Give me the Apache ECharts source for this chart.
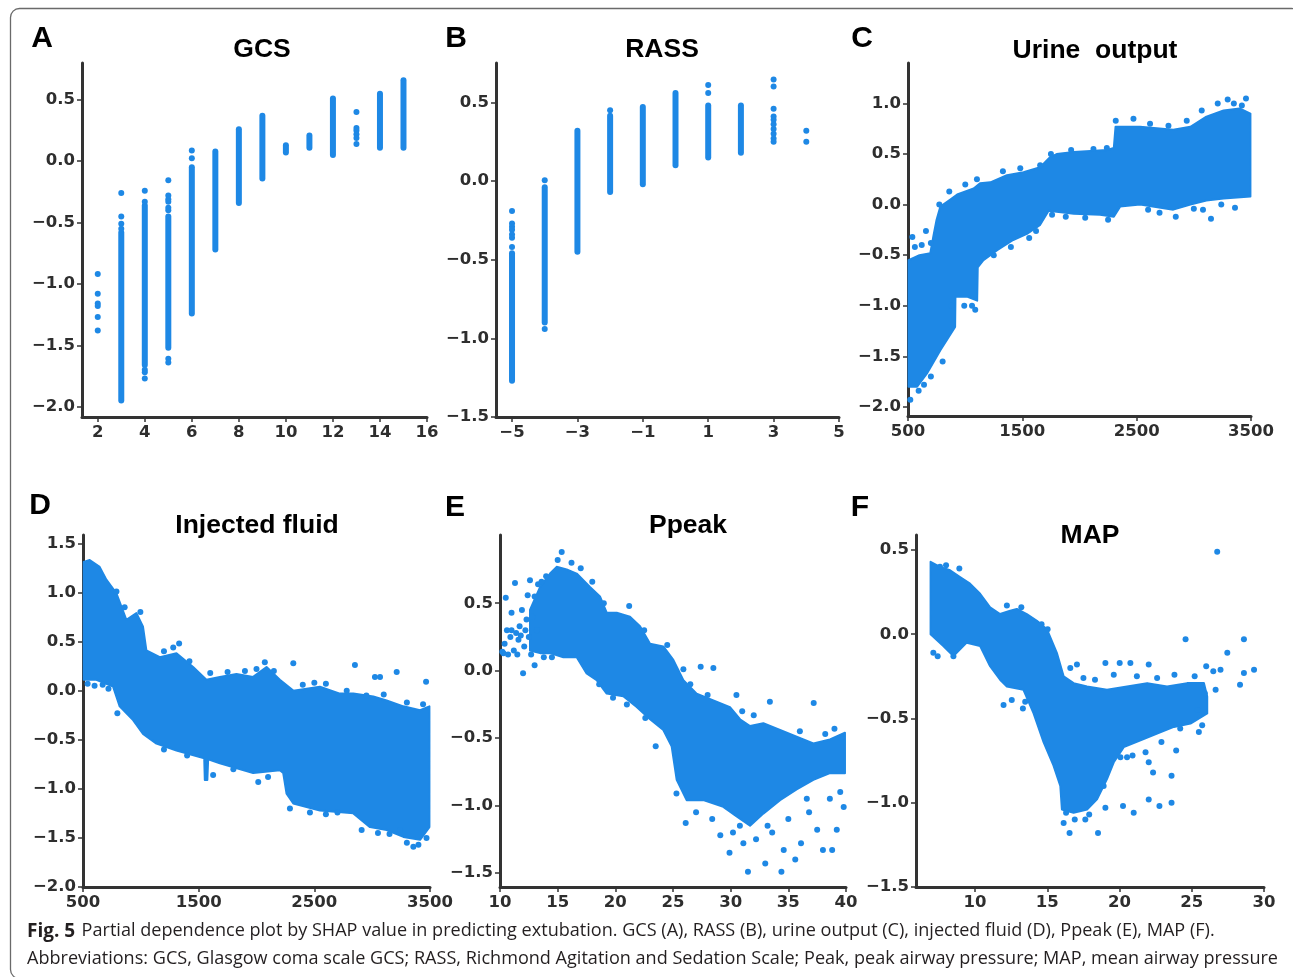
<!DOCTYPE html>
<html><head><meta charset="utf-8">
<script src="https://cdn.jsdelivr.net/npm/echarts@6/dist/echarts.min.js"></script>
<style>html,body{margin:0;padding:0;background:#fff}#c{width:1293px;height:977px}</style>
</head><body><div id="c"></div>
<script>
// ---------- DATA ----------
// A: GCS  — vertical stripes [x, top, bottom] and single dots [x, y]
const gcsStripes = [[3,-0.58,-1.95],[4,-0.36,-1.66],[5,-0.45,-1.52],[6,-0.05,-1.24],[7,0.08,-0.72],[8,0.26,-0.34],[9,0.37,-0.14],[10,0.13,0.07],[11,0.21,0.11],[12,0.51,0.05],[14,0.55,0.11],[15,0.66,0.11]];
const gcsDots = [[2,-0.92],[2,-1.08],[2,-1.16],[2,-1.18],[2,-1.27],[2,-1.38],[3,-0.26],[3,-0.45],[3,-0.51],[3,-0.55],[4,-0.24],[4,-0.33],[4,-1.70],[4,-1.72],[4,-1.77],[5,-0.155],[5,-0.28],[5,-0.31],[5,-0.33],[5,-0.38],[5,-0.40],[5,-1.61],[5,-1.64],[6,0.087],[6,0.025],[13,0.40],[13,0.27],[13,0.25],[13,0.22],[13,0.19],[13,0.14]];
const gcsXTicks = [2,4,6,8,10,12,14,16];
const gcsYTicks = [-2.0,-1.5,-1.0,-0.5,0.0,0.5];

// B: RASS
const rassStripes = [[-5,-0.46,-1.27],[-4,-0.04,-0.90],[-3,0.32,-0.45],[-2,0.415,-0.07],[-1,0.47,-0.02],[0,0.56,0.10],[1,0.48,0.15],[2,0.48,0.18]];
const rassDots = [[-5,-0.19],[-5,-0.27],[-5,-0.29],[-5,-0.31],[-5,-0.34],[-5,-0.36],[-5,-0.42],[-4,0.004],[-4,-0.94],[-2,0.45],[1,0.61],[1,0.56],[3,0.645],[3,0.60],[3,0.46],[3,0.41],[3,0.39],[3,0.36],[3,0.33],[3,0.30],[3,0.27],[3,0.25],[4,0.32],[4,0.25]];
const rassXTicks = [-5,-3,-1,1,3,5];
const rassYTicks = [-1.5,-1.0,-0.5,0.0,0.5];

// C: Urine output — dense cloud outline (upper edge, lower edge) + stray dots
const urineUpper = [[505,-0.55],[600,-0.50],[695,-0.48],[724,-0.30],[750,-0.15],[783,-0.02],[870,0.05],[930,0.10],[1074,0.16],[1130,0.21],[1220,0.22],[1365,0.29],[1510,0.32],[1656,0.37],[1744,0.47],[1800,0.50],[1950,0.52],[2240,0.54],[2300,0.56],[2315,0.77],[2530,0.77],[2820,0.74],[2970,0.77],[3110,0.87],[3260,0.93],[3400,0.95],[3495,0.90]];
const urineLower = [[3495,0.08],[3260,0.06],[3110,0.04],[2970,0.0],[2820,-0.05],[2530,0.0],[2355,-0.02],[2300,-0.12],[2180,-0.10],[1950,-0.09],[1800,-0.07],[1730,-0.06],[1656,-0.20],[1540,-0.29],[1420,-0.35],[1280,-0.45],[1160,-0.55],[1110,-0.62],[1105,-0.95],[1016,-0.91],[915,-0.91],[912,-1.21],[783,-1.44],[666,-1.67],[580,-1.80],[505,-1.80]];
const urineDots = [[520,-1.93],[593,-1.84],[803,-1.55],[992,-1.0],[1088,-1.04],[3150,-0.14],[2842,-0.12],[3360,-0.03],[3296,1.04],[3456,1.05],[2472,0.85],[2317,0.83],[538,-0.32],[657,-0.26],[774,0.0],[861,0.13],[1001,0.2],[1330,0.33],[1927,0.54],[3209,1.0],
  [560,-0.42],[620,-0.40],[700,-0.38],[1103,0.25],[1482,0.36],[1656,0.39],[1750,0.5],[2122,0.55],[2239,0.56],[2617,0.80],[2778,0.78],[2938,0.83],[3069,0.93],[3350,1.0],[3420,0.98],
  [1250,-0.5],[1400,-0.42],[1560,-0.33],[1620,-0.26],[1760,-0.1],[1880,-0.12],[2050,-0.13],[2250,-0.15],[2600,-0.05],[2700,-0.08],[3000,-0.04],[3080,-0.05],[3240,0.0],[880,-1.0],[1060,-1.0],[700,-1.7],[640,-1.78]];
const urineXTicks = [500,1500,2500,3500];
const urineYTicks = [-2.0,-1.5,-1.0,-0.5,0.0,0.5,1.0];

// D: Injected fluid
const fluidUpper = [[506,1.31],[558,1.33],[644,1.26],[702,1.13],[789,0.99],[875,0.72],[962,0.79],[1019,0.65],[1048,0.41],[1164,0.34],[1308,0.38],[1452,0.24],[1567,0.11],[1683,0.14],[1827,0.17],[1971,0.14],[2087,0.24],[2202,0.11],[2318,0.0],[2548,0.04],[2721,-0.03],[2837,-0.03],[3010,-0.06],[3125,-0.10],[3270,-0.16],[3414,-0.20],[3495,-0.16]];
const fluidLower = [[3495,-1.39],[3414,-1.52],[3270,-1.49],[3125,-1.42],[2981,-1.39],[2837,-1.25],[2548,-1.22],[2318,-1.15],[2260,-1.05],[2231,-0.84],[2202,-0.81],[1971,-0.84],[1683,-0.74],[1582,-0.70],[1575,-0.91],[1553,-0.91],[1548,-0.69],[1308,-0.61],[1135,-0.54],[1019,-0.44],[933,-0.30],[817,-0.16],[760,0.04],[615,0.11],[506,0.11]];
const fluidDots = [[797,-0.23],[1625,-0.86],[2015,-0.93],[2289,-1.20],[2462,-1.24],[3356,-1.59],[3466,0.09],[3212,0.19],[2851,0.26],[2072,0.29],[2318,0.28],[1331,0.48],[996,0.80],[789,1.01],[3024,0.14],[3068,0.14],[2909,-1.42],[3241,-1.42],[540,0.07],[600,0.05],[3300,-1.55],[3150,-1.46],[2700,-1.24],[2600,0.07],[2950,-0.05],
  [1200,0.40],[1280,0.44],[1420,0.30],[1600,0.18],[1750,0.19],[1900,0.20],[2000,0.22],[2150,0.20],[2400,0.06],[2500,0.08],[2780,0.0],[3100,-0.04],[3300,-0.12],[3440,-0.14],[1200,-0.60],[1400,-0.66],[1800,-0.80],[2100,-0.88],[2600,-1.26],[3050,-1.45],[3400,-1.57],[3470,-1.50],[860,0.85],[720,0.02],[670,0.06]];
const fluidXTicks = [500,1500,2500,3500];
const fluidYTicks = [-2.0,-1.5,-1.0,-0.5,0.0,0.5,1.0,1.5];

// E: Ppeak
const ppeakUpper = [[12.6,0.45],[13.47,0.62],[14.34,0.72],[14.91,0.77],[15.78,0.75],[16.65,0.72],[17.8,0.62],[18.67,0.55],[19.25,0.43],[20.12,0.43],[21.27,0.40],[22.14,0.33],[23.01,0.20],[24.16,0.18],[25.03,0.08],[25.9,-0.07],[27.05,-0.17],[28.5,-0.22],[29.94,-0.27],[30.81,-0.36],[31.68,-0.41],[32.83,-0.39],[34.28,-0.44],[35.72,-0.49],[37.17,-0.54],[38.61,-0.51],[39.91,-0.46]];
const ppeakLower = [[39.91,-0.76],[38.61,-0.76],[37.17,-0.81],[35.72,-0.88],[34.28,-0.96],[32.83,-1.06],[31.68,-1.15],[30.52,-1.08],[29.36,-1.01],[27.63,-0.96],[26.18,-0.96],[25.32,-0.81],[24.88,-0.56],[24.16,-0.44],[23.01,-0.36],[21.85,-0.27],[20.69,-0.19],[19.25,-0.17],[18.38,-0.07],[17.51,-0.02],[16.65,0.10],[15.49,0.10],[14.34,0.13],[13.47,0.13],[12.6,0.15]];
const ppeakDots = [[10.3,0.13],[10.5,0.54],[11.3,0.65],[11.0,0.43],[10.9,0.25],[11.6,0.23],[12.0,-0.02],[11.7,0.33],[12.3,0.38],[12.1,0.18],[13.0,0.04],[12.6,0.67],[15.35,0.88],[15.0,0.82],[21.2,0.48],[27.4,0.03],[28.5,0.02],[25.9,0.01],[23.5,-0.56],[25.3,-0.91],[26.1,-1.13],[31.5,-1.49],[33.0,-1.43],[34.4,-1.49],[35.6,-1.40],[37.2,-0.24],[33.4,-0.23],[30.5,-0.18],[39.0,-0.43],[38.0,-1.33],[38.8,-1.33],[39.2,-1.18],[39.8,-1.01],[29.1,-1.22],[29.9,-1.35],[31.1,-1.28],[34.6,-1.33],[36.1,-1.28],[37.5,-1.18],[10.6,0.3],[11.2,0.15],[11.9,0.45],[12.4,0.56],[32.2,-1.25],[33.6,-1.2],[36.8,-1.05],[30.2,-1.2],
  [10.2,0.14],[10.4,0.2],[10.7,0.12],[11.0,0.3],[11.4,0.28],[11.5,0.12],[11.8,0.26],[12.2,0.3],[12.5,0.25],[12.7,0.12],[12.8,0.4],[13.0,0.55],[13.2,0.3],[13.3,0.64],[13.6,0.66],[14.0,0.7],[13.8,0.1],[14.5,0.1],
  [16.2,0.8],[17.0,0.76],[18.0,0.66],[19.0,0.5],[22.5,0.3],[24.5,0.19],[26.5,-0.1],[28.0,-0.18],[31.0,-0.3],[32.0,-0.33],[36.0,-0.45],[38.2,-0.47],[39.6,-0.5],[27.0,-1.05],[28.4,-1.1],[30.8,-1.15],[33.2,-1.15],[35.0,-1.1],[36.6,-0.95],[38.6,-0.95],[39.5,-0.9],[21.0,-0.25],[22.6,-0.35],[18.6,-0.1],[19.8,-0.2]];
const ppeakXTicks = [10,15,20,25,30,35,40];
const ppeakYTicks = [-1.5,-1.0,-0.5,0.0,0.5];

// F: MAP
const mapUpper = [[6.92,0.43],[7.57,0.40],[8.27,0.38],[8.96,0.34],[9.65,0.30],[10.35,0.24],[11.04,0.16],[11.73,0.12],[12.43,0.14],[12.89,0.15],[13.58,0.12],[14.28,0.08],[14.97,0.03],[15.66,-0.11],[16.13,-0.25],[16.82,-0.29],[17.75,-0.31],[19.13,-0.33],[20.52,-0.31],[21.91,-0.29],[23.29,-0.31],[24.68,-0.29],[25.84,-0.29],[26.07,-0.37]];
const mapLower = [[26.07,-0.47],[24.91,-0.53],[23.76,-0.55],[22.6,-0.59],[21.45,-0.63],[20.29,-0.67],[19.6,-0.76],[19.13,-0.86],[18.44,-0.98],[17.75,-1.04],[16.82,-1.06],[16.01,-1.04],[15.9,-0.90],[15.43,-0.78],[14.74,-0.64],[14.05,-0.47],[13.35,-0.33],[12.2,-0.31],[11.73,-0.27],[11.04,-0.19],[10.35,-0.07],[9.42,-0.05],[8.5,-0.13],[7.8,-0.07],[6.92,0.0]];
const mapDots = [[26.76,0.49],[24.57,-0.03],[28.61,-0.03],[27.46,-0.11],[29.31,-0.21],[28.34,-0.30],[28.61,-0.23],[26.99,-0.21],[26.49,-0.22],[26.0,-0.19],[26.65,-0.33],[25.72,-0.54],[25.49,-0.58],[23.92,-0.69],[23.6,-0.84],[23.6,-1.0],[22.76,-1.02],[22.02,-0.98],[22.02,-0.76],[22.32,-0.82],[20.98,-1.06],[20.24,-1.02],[19.02,-1.03],[18.51,-1.18],[16.54,-1.18],[17.63,-1.10],[16.13,-1.12],[22.02,-0.18],[20.75,-0.17],[20.01,-0.17],[19.02,-0.17],[7.11,-0.11],[7.41,-0.13],[8.5,-0.13],[11.97,-0.42],[12.54,-0.39],[13.31,-0.44],[13.47,-0.40],[20.52,-0.73],[20.06,-0.73],[7.57,0.40],[7.99,0.41],[8.91,0.39],[15.02,0.03],[16.59,-0.20],[17.05,-0.18],
  [17.5,-0.26],[18.3,-0.27],[19.6,-0.24],[21.2,-0.25],[22.6,-0.26],[23.8,-0.24],[25.2,-0.25],[25.9,-0.35],[25.4,-0.45],[24.2,-0.56],[22.9,-0.64],[21.8,-0.70],[20.9,-0.72],[18.9,-0.9],[17.9,-1.07],[16.9,-1.1],[16.3,-1.06],[12.2,0.17],[13.2,0.16],[14.6,0.06]];
const mapXTicks = [10,15,20,25,30];
const mapYTicks = [-1.5,-1.0,-0.5,0.0,0.5];

const titles = ['GCS','RASS','Urine  output','Injected fluid','Ppeak','MAP'];
const letters = ['A','B','C','D','E','F'];
const captionBold = 'Fig. 5';
const captionLine1 = 'Partial dependence plot by SHAP value in predicting extubation. GCS (A), RASS (B), urine output (C), injected fluid (D), Ppeak (E), MAP (F).';
const captionLine2 = 'Abbreviations: GCS, Glasgow coma scale GCS; RASS, Richmond Agitation and Sedation Scale; Peak, peak airway pressure; MAP, mean airway pressure';

// ---------- LAYOUT ----------
const BLUE = '#1E88E5';
const AX = '#333333';
const boxes = [
  {left:82, top:63, width:345, height:354, xmin:1.33, xmax:16, ymin:-2.084, ymax:0.80},
  {left:496, top:63, width:343, height:354, xmin:-5.49, xmax:5, ymin:-1.5, ymax:0.75},
  {left:908, top:63, width:343, height:353, xmin:500, xmax:3500, ymin:-2.09, ymax:1.40},
  {left:83, top:535, width:347, height:352, xmin:500, xmax:3500, ymin:-2.0, ymax:1.585},
  {left:500, top:535, width:346, height:352, xmin:10, xmax:40, ymin:-1.604, ymax:1.006},
  {left:916, top:535, width:348, height:352, xmin:5.91, xmax:30, ymin:-1.5, ymax:0.589}
];
const xTickSets = [gcsXTicks, rassXTicks, urineXTicks, fluidXTicks, ppeakXTicks, mapXTicks];
const yTickSets = [gcsYTicks, rassYTicks, urineYTicks, fluidYTicks, ppeakYTicks, mapYTicks];
const titlePos = [[262,50],[662,50],[1095,51],[257,526],[688,526],[1090,536]];
const letterPos = [[42,39],[456,39],[862,39],[40,506],[455,508],[860,508]];

const minus = s => s.replace('-', '\u2212');
const labelFont = {fontFamily:'DejaVu Sans', fontWeight:'bold', fontSize:16.5, color:'#2e2e2e'};

const grid = [], xAxis = [], yAxis = [], series = [];
boxes.forEach((b, i) => {
  grid.push({left:b.left, top:b.top, width:b.width, height:b.height, containLabel:false});
  xAxis.push({type:'value', gridIndex:i, min:b.xmin, max:b.xmax, splitLine:{show:false},
    axisLine:{show:true, onZero:false, lineStyle:{color:AX, width:3}},
    axisTick:{show:true, length:5, lineStyle:{color:AX, width:1.5}, customValues:xTickSets[i]},
    axisLabel:Object.assign({margin:7, customValues:xTickSets[i], formatter:v => minus(String(Math.round(v)))}, labelFont)});
  yAxis.push({type:'value', gridIndex:i, min:b.ymin, max:b.ymax, splitLine:{show:false},
    axisLine:{show:true, onZero:false, lineStyle:{color:AX, width:3}},
    axisTick:{show:true, length:5, lineStyle:{color:AX, width:1.5}, customValues:yTickSets[i]},
    axisLabel:Object.assign({margin:7, customValues:yTickSets[i], formatter:v => minus((Math.round(v*10)/10).toFixed(1))}, labelFont)});
});

function stripeSeries(i, data) {
  return {type:'custom', xAxisIndex:i, yAxisIndex:i, data:data, silent:true, encode:{x:0, y:[1,2]},
    renderItem:(params, api) => {
      const p1 = api.coord([api.value(0), api.value(1)]);
      const p2 = api.coord([api.value(0), api.value(2)]);
      return {type:'line', shape:{x1:p1[0], y1:p1[1], x2:p2[0], y2:p2[1]},
        style:{stroke:BLUE, lineWidth:6, lineCap:'round'}};
    }};
}
function dotSeries(i, data) {
  return {type:'scatter', xAxisIndex:i, yAxisIndex:i, data:data, symbolSize:6, silent:true,
    itemStyle:{color:BLUE, opacity:1}};
}
function cloudSeries(i, upper, lower) {
  const poly = upper.concat(lower);
  return {type:'custom', xAxisIndex:i, yAxisIndex:i, data:poly, silent:true, encode:{x:0, y:1},
    renderItem:(params, api) => {
      if (params.dataIndex !== 0) return null;
      const pts = poly.map(p => api.coord(p));
      return {type:'polygon', shape:{points:pts}, style:{fill:BLUE, stroke:BLUE, lineWidth:2, lineJoin:'round'}};
    }};
}

series.push(stripeSeries(0, gcsStripes), dotSeries(0, gcsDots));
series.push(stripeSeries(1, rassStripes), dotSeries(1, rassDots));
series.push(cloudSeries(2, urineUpper, urineLower), dotSeries(2, urineDots));
series.push(cloudSeries(3, fluidUpper, fluidLower), dotSeries(3, fluidDots));
series.push(cloudSeries(4, ppeakUpper, ppeakLower), dotSeries(4, ppeakDots));
series.push(cloudSeries(5, mapUpper, mapLower), dotSeries(5, mapDots));

// caption horizontal compression (condensed journal font)
const ctx = document.createElement('canvas').getContext('2d');
ctx.font = '19px "Open Sans"';
const w2 = ctx.measureText(captionLine2).width;
const capScale = 1251 / w2;

const graphic = [];
graphic.push({type:'rect', silent:true, shape:{x:10.5, y:8.5, width:1290, height:970, r:9},
  style:{fill:'none', stroke:'#6a6a6a', lineWidth:1.3}});
titles.forEach((t, i) => graphic.push({type:'text', x:titlePos[i][0], y:titlePos[i][1], silent:true,
  style:{text:t, fontFamily:'Liberation Sans', fontWeight:'bold', fontSize:26.5, fill:'#000', align:'center', verticalAlign:'middle'}}));
letters.forEach((t, i) => graphic.push({type:'text', x:letterPos[i][0], y:letterPos[i][1], silent:true,
  style:{text:t, fontFamily:'Liberation Sans', fontWeight:'bold', fontSize:30, fill:'#000', align:'center', verticalAlign:'middle'}}));
graphic.push({type:'text', x:27, y:931, scaleX:capScale, silent:true,
  style:{text:'{b|' + captionBold + '}  {n|' + captionLine1 + '}', verticalAlign:'middle', align:'left',
    rich:{b:{fontFamily:'Open Sans', fontWeight:'bold', fontSize:20, fill:'#231f20'},
          n:{fontFamily:'Open Sans', fontSize:19, fill:'#231f20'}}}});
graphic.push({type:'text', x:27, y:959, scaleX:capScale, silent:true,
  style:{text:captionLine2, fontFamily:'Open Sans', fontSize:19, fill:'#231f20', align:'left', verticalAlign:'middle'}});

const chart = echarts.init(document.getElementById('c'), null, {renderer:'canvas'});
chart.setOption({animation:false, backgroundColor:'#fff', grid, xAxis, yAxis, series, graphic});
</script></body></html>
